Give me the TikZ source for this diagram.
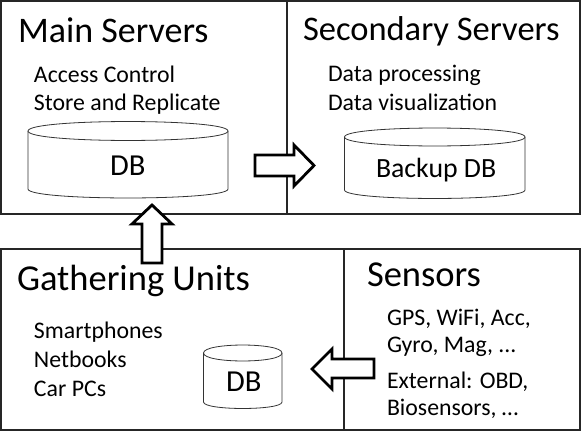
\documentclass[tikz,border=0pt]{standalone}
\usepackage{fontspec}
\setmainfont{Carlito}
\tikzset{
  x=1pt,y=-1pt,
  panel/.style={draw=black!85,line width=1.4pt,fill=none},
  cyl/.style={draw=black!80,line width=0.8pt,fill=white},
  blockarrow/.style={draw=black,line width=2.8pt,fill=white,line join=miter,miter limit=4},
  lab/.style={anchor=base west,inner sep=0pt,outer sep=0pt,text=black},
  ttl/.style={lab,font=\fontsize{36.5}{36.5}\selectfont},
  ttlb/.style={lab,font=\fontsize{34.5}{34.5}\selectfont},
  big/.style={lab,font=\fontsize{30.5}{30.5}\selectfont},
  txt/.style={lab,font=\fontsize{23.8}{23.8}\selectfont}
}
% #1 left, #2 right, #3 top ellipse centre y, #4 ellipse ry, #5 side bottom y, #6 bottom ry
\newcommand{\drumshape}[6]{%
  \path[cyl] (#1,#3) .. controls (#1,{#3-1.33*#4}) and (#2,{#3-1.33*#4}) .. (#2,#3)
    -- (#2,#5) .. controls (#2,{#5+1.33*#6}) and (#1,{#5+1.33*#6}) .. (#1,#5) -- cycle;
  \path[cyl] (#1,#3) .. controls (#1,{#3+1.33*#4}) and (#2,{#3+1.33*#4}) .. (#2,#3);
}
\begin{document}
\begin{tikzpicture}
\useasboundingbox (0,0) rectangle (581,431);
\fill[white] (0,0) rectangle (581,431);
% panels
\draw[panel] (1,1) rectangle (287,214);
\draw[panel] (287,1) rectangle (580,214);
\draw[panel] (1,249) rectangle (344,430);
\draw[panel] (344,249) rectangle (580,430);
% drums
\drumshape{28}{228}{131}{9.5}{189}{9}
\drumshape{344.5}{525}{137}{9}{190}{8.5}
\drumshape{203.5}{282}{353}{8}{402}{6.5}
% block arrows
\draw[blockarrow] (255,155) -- (294,155) -- (294,145) -- (314,165.5) -- (294,186) -- (294,176) -- (255,176) -- cycle;
\draw[blockarrow] (142,263) -- (142,224) -- (132,224) -- (152,205) -- (172,224) -- (162,224) -- (162,263) -- cycle;
\draw[blockarrow] (374,359) -- (332,359) -- (332,349) -- (312,369) -- (332,389) -- (332,378) -- (374,378) -- cycle;
% text
\node[lab,font=\fontsize{36}{36}\selectfont] (t1) at (18,42) {Main Servers};
\node[txt] (a1) at (34,82) {Access Control};
\node[txt] (a2) at (34,110) {Store and Replicate};
\node[big] (d1) at (110,175) {DB};
\node[ttlb] (t2) at (303,40) {Secondary Servers};
\node[txt] (b1) at (328,81) {Data processing};
\node[txt] (b2) at (328,110) {Data visualization};
\node[lab,font=\fontsize{27.8}{27.8}\selectfont] (d2) at (376,177) {Backup DB};
\node[ttl] (t3) at (17,290) {Gathering Units};
\node[ttl] (t4) at (367,286) {Sensors};
\node[txt] (c1) at (34,338) {Smartphones};
\node[txt] (c2) at (34,367) {Netbooks};
\node[txt] (c3) at (34,396) {Car PCs};
\node[big] (d3) at (226,391) {DB};
\node[txt] (s1) at (387,325) {GPS, WiFi, Acc,};
\node[txt] (s2) at (387,352) {Gyro, Mag, ...};
\node[txt] (s3) at (387,388) {External: OBD,};
\node[txt] (s4) at (387,415) {Biosensors, …};
\end{tikzpicture}
\end{document}
